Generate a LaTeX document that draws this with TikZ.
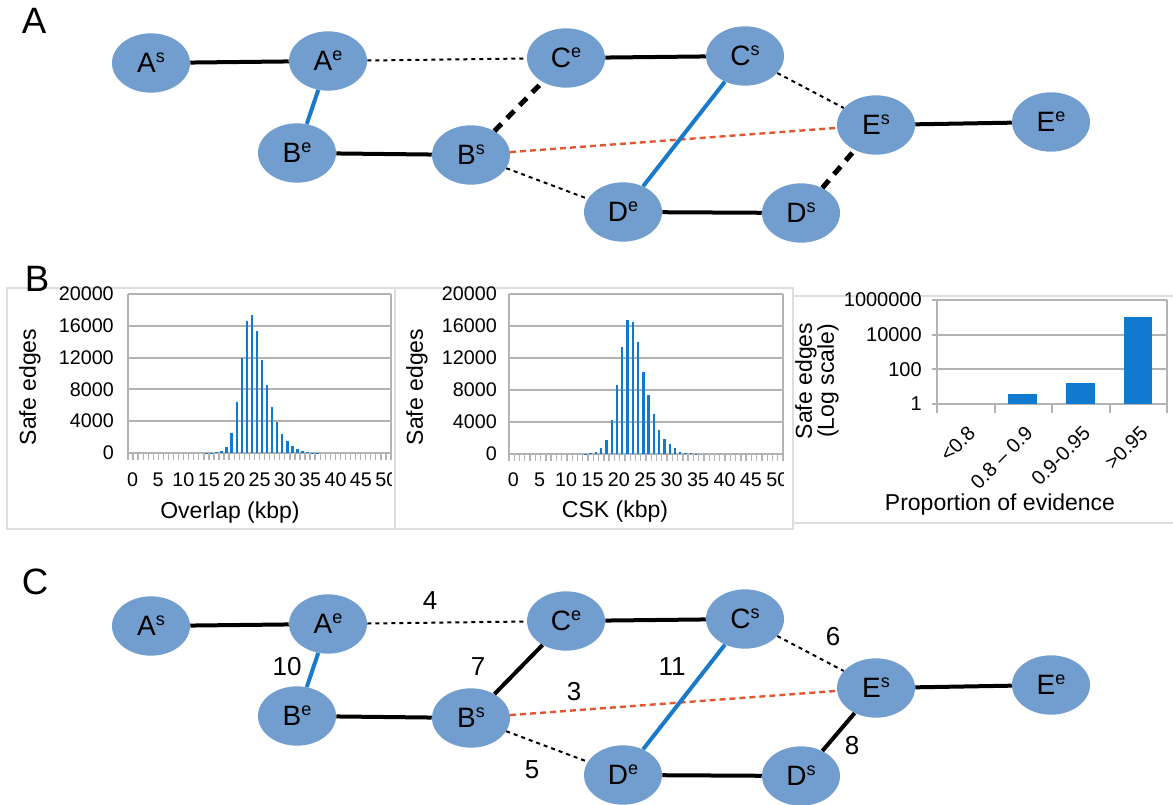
\documentclass[tikz,border=0pt]{standalone}
\usepackage{fontspec}
\setmainfont{Liberation Sans}
\usetikzlibrary{shapes.geometric}

\definecolor{nodefill}{RGB}{114,158,207}
\definecolor{linkblue}{RGB}{24,122,200}
\definecolor{barblue}{RGB}{16,122,208}
\definecolor{linkred}{RGB}{226,86,50}
\definecolor{gridgray}{RGB}{179,179,179}
\definecolor{panelgray}{RGB}{222,222,222}

% vertex label: letter with a raised end marker
\newcommand{\vtx}[2]{#1\raisebox{7.5pt}{\fontsize{13.5pt}{14pt}\selectfont #2}}

% the ten contig-end vertices of the scaffold graph
\newcommand{\placevertices}{%
  \node[vertex] (As) at (151,63)  {\vtx{A}{s}};
  \node[vertex] (Ae) at (328,61)  {\vtx{A}{e}};
  \node[vertex] (Be) at (297,153) {\vtx{B}{e}};
  \node[vertex] (Bs) at (471,155) {\vtx{B}{s}};
  \node[vertex] (Ce) at (566,58)  {\vtx{C}{e}};
  \node[vertex] (Cs) at (745,56)  {\vtx{C}{s}};
  \node[vertex] (Es) at (876,125) {\vtx{E}{s}};
  \node[vertex] (Ee) at (1051,122){\vtx{E}{e}};
  \node[vertex] (De) at (623,212) {\vtx{D}{e}};
  \node[vertex] (Ds) at (801,213) {\vtx{D}{s}};
}

\begin{document}
\begin{tikzpicture}[x=0.75pt,y=-0.75pt,
  vertex/.style={ellipse, fill=nodefill, minimum width=58.5pt, minimum height=44.5pt,
    inner sep=0pt, font=\fontsize{21pt}{22pt}\selectfont},
  solidlink/.style={line width=3pt, black},
  bluelink/.style={line width=3pt, linkblue},
  dotlink/.style={line width=1.5pt, black, dash pattern=on 3pt off 3pt},
  thickdash/.style={line width=3.75pt, black, dash pattern=on 7.5pt off 6pt},
  redlink/.style={line width=1.8pt, linkred, dash pattern=on 4.5pt off 3pt},
  panellabel/.style={font=\fontsize{27.5pt}{28pt}\selectfont, inner sep=0pt},
  weight/.style={font=\fontsize{19.5pt}{20pt}\selectfont, inner sep=0pt},
  gridline/.style={line width=1.5pt, gridgray},
  minortick/.style={line width=1pt, gridgray},
  histbar/.style={line width=1.8pt, barblue},
  logbar/.style={fill=barblue, draw=none},
  ticklabel/.style={font=\fontsize{14.8pt}{15pt}\selectfont, inner sep=0pt},
  axistitle/.style={font=\fontsize{17.25pt}{18pt}\selectfont, inner sep=0pt},
  panelline/.style={line width=0.8pt, panelgray}
]
\useasboundingbox (0,0) rectangle (1173,805);

% ---------------- panel A ----------------
\node[panellabel] (labA) at (34,21) {A};
\placevertices
\draw[solidlink] (As) -- (Ae);
\draw[bluelink]  (Ae) -- (Be);
\draw[dotlink]   (Ae) -- (Ce);
\draw[solidlink] (Be) -- (Bs);
\draw[thickdash] (Bs) -- (Ce);
\draw[redlink]   (Bs) -- (Es);
\draw[dotlink]   (Bs) -- (De);
\draw[solidlink] (Ce) -- (Cs);
\draw[bluelink]  (Cs) -- (De);
\draw[dotlink]   (Cs) -- (Es);
\draw[solidlink] (Es) -- (Ee);
\draw[solidlink] (De) -- (Ds);
\draw[thickdash] (Ds) -- (Es);

% ---------------- panel B ----------------
\draw[panelline] (7,288) rectangle (395,529);
\draw[panelline] (395,288) -- (793,288) -- (793,529) -- (395,529);
\draw[panelline] (793,296) -- (1173,296);
\draw[panelline] (793,523) -- (1173,523);
\node[panellabel] (labB) at (37,279) {B};

% histogram of overlap lengths
\foreach \k/\lab in {0/0,1/4000,2/8000,3/12000,4/16000,5/20000}{
  \draw[gridline] (128,{453-\k*31.8}) -- (391,{453-\k*31.8});
  \node[ticklabel, anchor=east] at (114,{453-\k*31.8}) {\lab};
}
\draw[gridline] (128,294) -- (128,453);
\draw[gridline] (391,294) -- (391,453);
\foreach \i in {0,...,52}
  \draw[minortick] ({128+\i*263/52},453) -- ++(0,7);
\foreach \i/\h in {15/0.1,16/0.3,17/0.8,18/2.1,19/7.5,20/25,21/64.5,22/120,23/166,
    24/174,25/153,26/117,27/85.5,28/58,29/38.5,30/24,31/15.5,32/9,33/4.5,34/2.1,
    35/1,36/0.4,37/0.15}
  \draw[histbar] ({128+(\i+0.5)*263/52},453) -- ++(0,{-\h*0.795});
\begin{scope}
  \clip (100,465) rectangle (391.5,498);
  \foreach \k in {0,...,10}{
    \pgfmathtruncatemacro{\v}{5*\k}
    \node[ticklabel] at ({132.7+\k*25.36},480) {\v};
  }
\end{scope}
\node[axistitle] (ovx) at (230,513) {Overlap (kbp)};
\node[axistitle, rotate=90] (ovy) at (30,387) {Safe edges};

% histogram of CSK lengths
\foreach \k/\lab in {0/0,1/4000,2/8000,3/12000,4/16000,5/20000}{
  \draw[gridline] (509,{454-\k*32}) -- (783,{454-\k*32});
  \node[ticklabel, anchor=east] at (497,{454-\k*32}) {\lab};
}
\draw[gridline] (509,294) -- (509,454);
\draw[gridline] (783,294) -- (783,454);
\foreach \i in {0,...,52}
  \draw[minortick] ({509+\i*274/52},454) -- ++(0,7);
\foreach \i/\h in {14/0.6,15/1.25,16/2.9,17/7,18/17.5,19/42.5,20/86.3,21/134,
    22/167.6,23/165.5,24/140.5,25/103,26/73.8,27/49.6,28/30,29/18.3,30/12.5,
    31/7.1,32/2.9,33/1.7,34/0.8,35/0.4}
  \draw[histbar] ({509+(\i+0.5)*274/52},454) -- ++(0,{-\h*0.8});
\begin{scope}
  \clip (490,465) rectangle (783.5,498);
  \foreach \k in {0,...,10}{
    \pgfmathtruncatemacro{\v}{5*\k}
    \node[ticklabel] at ({513.3+\k*26.4},480) {\v};
  }
\end{scope}
\node[axistitle] (cskx) at (615,512) {CSK (kbp)};
\node[axistitle, rotate=90] (csky) at (417,387) {Safe edges};

% evidence proportion, log scale
\foreach \k/\lab in {0/1,2/100,4/10000,6/1000000}{
  \draw[gridline] (932,{404-\k*17.33}) -- (1167,{404-\k*17.33});
  \node[ticklabel, anchor=east, font=\fontsize{15pt}{15pt}\selectfont] at (922,{404-\k*17.33}) {\lab};
}
\draw[gridline] (937,300) -- (937,404);
\draw[gridline] (1167,300) -- (1167,404);
\foreach \j in {0,...,4}
  \draw[gridline] ({937+\j*57.5},404) -- ++(0,9);
\fill[logbar] (1008,404) rectangle (1037,394.3);
\fill[logbar] (1065.5,404) rectangle (1094.5,382.7);
\fill[logbar] (1123.5,404) rectangle (1152,317.3);
\foreach \j/\lab in {1/{<0.8},2/{0.8 – 0.9},3/{0.9-0.95},4/{>0.95}}
  \node[ticklabel, font=\fontsize{15pt}{15pt}\selectfont, anchor=east, rotate=45]
    at ({937+(\j-0.5)*57.5+6},430) {\lab};
\node[axistitle] (evx) at (1000,505) {Proportion of evidence};
\node[axistitle, rotate=90, align=center, font=\fontsize{17.25pt}{16.5pt}\selectfont]
  (evy) at (817,381) {Safe edges\\(Log scale)};

% ---------------- panel C ----------------
\node[panellabel] (labC) at (35,582) {C};
\begin{scope}[shift={(0,563)}, name prefix=c-]
  \placevertices
  \draw[solidlink] (As) -- (Ae);
  \draw[bluelink]  (Ae) -- (Be);
  \draw[dotlink]   (Ae) -- (Ce);
  \draw[solidlink] (Be) -- (Bs);
  \draw[solidlink] (Bs) -- (Ce);
  \draw[redlink]   (Bs) -- (Es);
  \draw[dotlink]   (Bs) -- (De);
  \draw[solidlink] (Ce) -- (Cs);
  \draw[bluelink]  (Cs) -- (De);
  \draw[dotlink]   (Cs) -- (Es);
  \draw[solidlink] (Es) -- (Ee);
  \draw[solidlink] (De) -- (Ds);
  \draw[solidlink] (Ds) -- (Es);
  \node[weight] (w4)  at (430,38)  {4};
  \node[weight] (w10) at (287,104) {10};
  \node[weight] (w7)  at (478,104) {7};
  \node[weight] (w3)  at (574,129) {3};
  \node[weight] (w11) at (672,104) {11};
  \node[weight] (w6)  at (833,74)  {6};
  \node[weight] (w8)  at (852,183) {8};
  \node[weight] (w5)  at (532,207) {5};
\end{scope}
\end{tikzpicture}
\end{document}
